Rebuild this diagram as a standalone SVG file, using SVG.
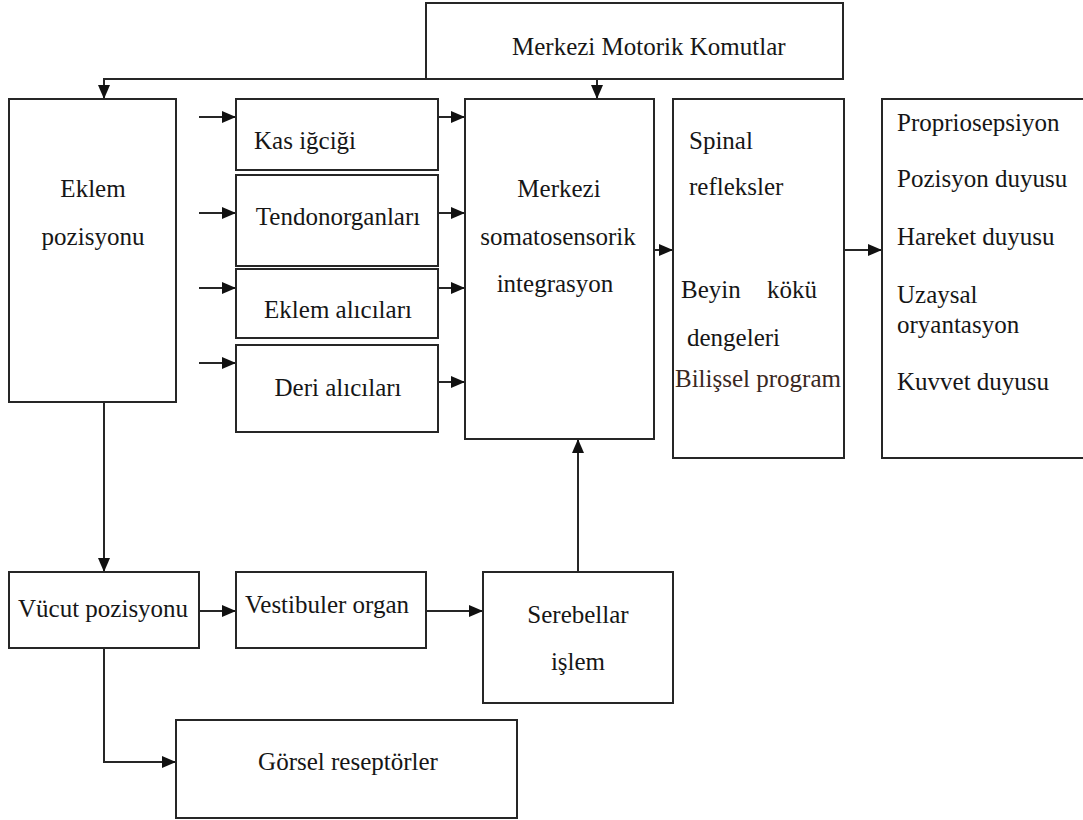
<svg xmlns="http://www.w3.org/2000/svg" width="1083" height="820" viewBox="0 0 1083 820">
  <style>
    .box { fill: #ffffff; stroke: #262626; stroke-width: 2; }
    .lbl { font-family: "Liberation Serif", "Times New Roman", serif; font-size: 25px; fill: #161616; }
    .mid { text-anchor: middle; }
    .wire { fill: none; stroke: #262626; stroke-width: 2; marker-end: url(#head); }
  </style>
  <defs>
    <marker id="head" viewBox="0 0 14 12" refX="14" refY="6" markerWidth="14" markerHeight="12" markerUnits="userSpaceOnUse" orient="auto">
      <path d="M0,0 L14,6 L0,12 Z" fill="#111111"/>
    </marker>
  </defs>
  <rect width="1083" height="820" fill="#ffffff"/>

  <!-- connectors -->
  <g id="connectors">
    <path class="wire" d="M426,79 H104 V99"/>
    <path class="wire" d="M597,59 V99"/>
    <path class="wire" d="M199,117 H236"/>
    <path class="wire" d="M199,213 H236"/>
    <path class="wire" d="M199,288 H236"/>
    <path class="wire" d="M199,363 H236"/>
    <path class="wire" d="M426,117 H465"/>
    <path class="wire" d="M426,213 H465"/>
    <path class="wire" d="M426,288 H465"/>
    <path class="wire" d="M426,382 H465"/>
    <path class="wire" d="M654,250 H673"/>
    <path class="wire" d="M844,250 H882"/>
    <path class="wire" d="M104,402 V572"/>
    <path class="wire" d="M199,611 H236"/>
    <path class="wire" d="M426,611 H483"/>
    <path class="wire" d="M578,572 V439"/>
    <path class="wire" d="M104,648 V762 H176"/>
  </g>

  <g id="motor-commands">
    <rect class="box" x="426" y="3" width="417" height="76"/>
    <text class="lbl" x="512" y="55">Merkezi Motorik Komutlar</text>
  </g>

  <g id="joint-position">
    <rect class="box" x="9" y="99" width="167" height="303"/>
    <text class="lbl mid" x="93" y="197">Eklem</text>
    <text class="lbl mid" x="93" y="245">pozisyonu</text>
  </g>

  <g id="muscle-spindle">
    <rect class="box" x="236" y="99" width="202" height="71"/>
    <text class="lbl" x="254" y="149">Kas iğciği</text>
  </g>

  <g id="tendon-organs">
    <rect class="box" x="236" y="175" width="202" height="91"/>
    <text class="lbl mid" x="338" y="225">Tendonorganları</text>
  </g>

  <g id="joint-receptors">
    <rect class="box" x="236" y="269" width="202" height="69"/>
    <text class="lbl mid" x="338" y="318">Eklem alıcıları</text>
  </g>

  <g id="skin-receptors">
    <rect class="box" x="236" y="345" width="202" height="87"/>
    <text class="lbl mid" x="338" y="396">Deri alıcıları</text>
  </g>

  <g id="somatosensory-integration">
    <rect class="box" x="465" y="99" width="189" height="340"/>
    <text class="lbl mid" x="559" y="197">Merkezi</text>
    <text class="lbl mid" x="558" y="245">somatosensorik</text>
    <text class="lbl mid" x="555" y="292">integrasyon</text>
  </g>

  <g id="reflexes">
    <rect class="box" x="673" y="99" width="171" height="359"/>
    <text class="lbl" x="689" y="149">Spinal</text>
    <text class="lbl" x="689" y="195">refleksler</text>
    <text class="lbl" y="298"><tspan x="681">Beyin</tspan><tspan x="767">kökü</tspan></text>
    <text class="lbl" x="687" y="346">dengeleri</text>
    <text class="lbl" x="675" y="387" style="fill:#3a2822">Bilişsel program</text>
  </g>

  <g id="senses">
    <rect class="box" x="882" y="99" width="210" height="359"/>
    <text class="lbl" x="897" y="131">Propriosepsiyon</text>
    <text class="lbl" x="897" y="187">Pozisyon duyusu</text>
    <text class="lbl" x="897" y="245">Hareket duyusu</text>
    <text class="lbl" x="897" y="303">Uzaysal</text>
    <text class="lbl" x="897" y="333">oryantasyon</text>
    <text class="lbl" x="897" y="390">Kuvvet duyusu</text>
  </g>

  <g id="body-position">
    <rect class="box" x="9" y="572" width="190" height="76"/>
    <text class="lbl" x="18" y="617">Vücut pozisyonu</text>
  </g>

  <g id="vestibular-organ">
    <rect class="box" x="236" y="572" width="190" height="76"/>
    <text class="lbl" x="245" y="613">Vestibuler organ</text>
  </g>

  <g id="cerebellar-processing">
    <rect class="box" x="483" y="572" width="190" height="131"/>
    <text class="lbl mid" x="578" y="623">Serebellar</text>
    <text class="lbl mid" x="578" y="670">işlem</text>
  </g>

  <g id="visual-receptors">
    <rect class="box" x="176" y="720" width="341" height="98"/>
    <text class="lbl mid" x="348" y="770">Görsel reseptörler</text>
  </g>
</svg>
